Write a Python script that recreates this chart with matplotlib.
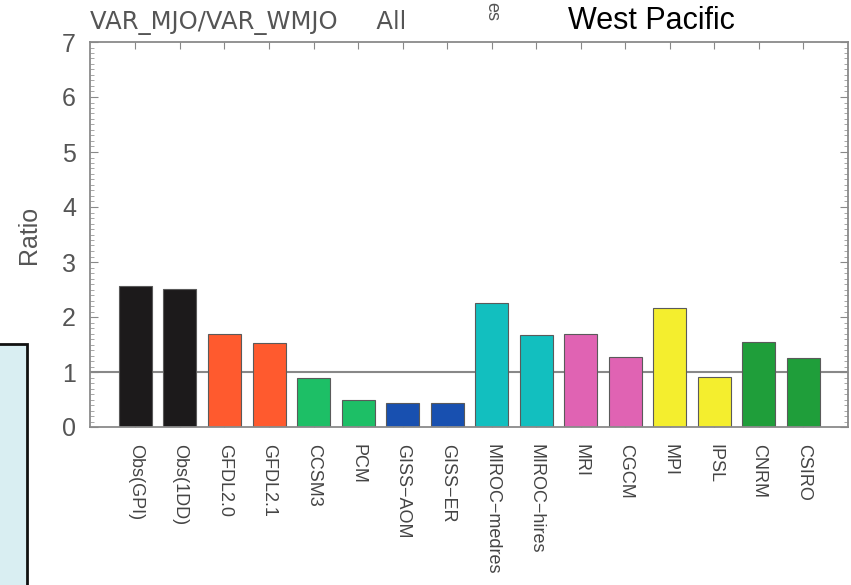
import matplotlib
matplotlib.use("Agg")
import matplotlib.pyplot as plt
from matplotlib.ticker import MultipleLocator, FixedLocator
from matplotlib.patches import Rectangle

models = ["Obs(GPI)", "Obs(1DD)", "GFDL2.0", "GFDL2.1", "CCSM3", "PCM",
          "GISS\u2212AOM", "GISS\u2212ER", "MIROC\u2212medres", "MIROC\u2212hires",
          "MRI", "CGCM", "MPI", "IPSL", "CNRM", "CSIRO"]
ratios = [2.56, 2.51, 1.70, 1.53, 0.89, 0.50, 0.44, 0.43,
          2.25, 1.68, 1.70, 1.28, 2.17, 0.91, 1.55, 1.26]
bar_colors = ["#1c1a1b", "#1c1a1b", "#ff5a2e", "#ff5a2e", "#1dbf66", "#1dbf66",
              "#1850b0", "#1850b0", "#12bfbf", "#12bfbf", "#e063b3", "#e063b3",
              "#f4ee2e", "#f4ee2e", "#1f9e3a", "#1f9e3a"]
yticks = [0, 1, 2, 3, 4, 5, 6, 7]

gray = "#555555"
fig = plt.figure(figsize=(8.51, 5.85), dpi=100)
ax = fig.add_axes([90 / 851, 158 / 585, 758 / 851, 385 / 585])

x = list(range(len(models)))
ax.axhline(1, color="#888888", lw=1.5, zorder=1)
ax.bar(x, ratios, width=0.74, color=bar_colors, edgecolor="#5a5a5a",
       linewidth=0.8, zorder=2)

ax.set_xlim(-1.02, 16.0)
ax.set_ylim(0, 7)
ax.yaxis.set_major_locator(FixedLocator(yticks))
ax.yaxis.set_minor_locator(MultipleLocator(0.1))
ax.set_xticks(x)
ax.set_xticklabels(models, rotation=270, fontsize=13, color="#444444",
                   va="top", ha="center", family="Liberation Sans")
ax.set_yticklabels([str(v) for v in yticks], fontsize=18, color=gray,
                   family="Liberation Sans")
ax.tick_params(axis="y", which="major", direction="in", length=6, width=0.8,
               color="#888888", right=True, pad=10)
ax.tick_params(axis="y", which="minor", direction="in", length=3, width=0.6,
               color="#999999", right=True)
ax.tick_params(axis="x", which="major", direction="in", length=5, width=0.8,
               color="#888888", top=True, pad=12)
for s in ax.spines.values():
    s.set_color("#8a8a8a")
    s.set_linewidth(1.3)

ax.set_ylabel("Ratio", fontsize=18, color=gray, labelpad=15,
              family="Liberation Sans")

fig.text(90 / 851, 1 - 29 / 585, "VAR_MJO/VAR_WMJO     All", fontsize=17.5,
         color=gray, va="baseline", ha="left", family="DejaVu Sans")
fig.text(651 / 851, 1 - 29 / 585, "West Pacific", fontsize=22,
         color="black", va="baseline", ha="center", family="Liberation Sans")
fig.text(492 / 851, 1 - 12 / 585, "es", fontsize=13, color=gray,
         rotation=270, va="center", ha="center", family="Liberation Sans")

# light blue side panel at the lower left
fig.patches.append(Rectangle((-0.01, -0.01), 27 / 851 + 0.01, (585 - 344) / 585 + 0.01,
                             transform=fig.transFigure, facecolor="#d9eef2",
                             edgecolor="#111111", linewidth=2, zorder=0))

fig.savefig("out.png", dpi=100)
